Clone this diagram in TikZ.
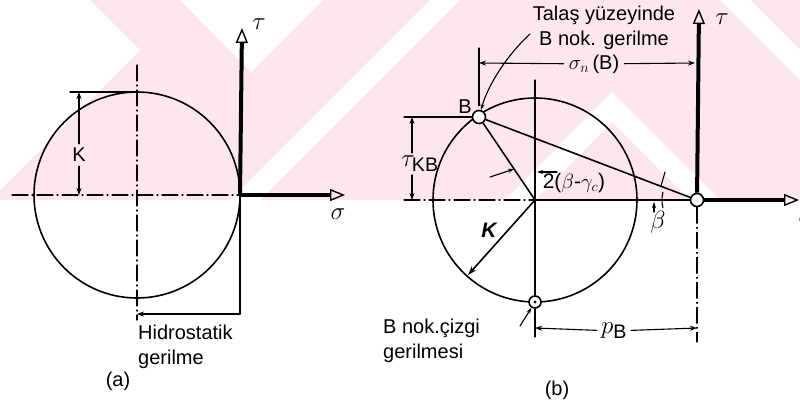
\documentclass[tikz,border=0pt]{standalone}
\usepackage{fontspec}
\setmainfont{Liberation Sans}
\usetikzlibrary{arrows.meta}
\definecolor{wmpink}{RGB}{253,231,236}

\begin{document}
\begin{tikzpicture}[
    x=1pt, y=-1pt,
    line cap=round,
    circ/.style={line width=1.6pt},
    thinline/.style={line width=1.1pt},
    centre/.style={line width=1.1pt, dash pattern=on 16pt off 4pt on 1pt off 4pt},
    axis/.style={line width=4pt, line cap=butt,
        -{Triangle[open, length=15pt, width=12pt, line width=1.4pt]}},
    dim/.style={line width=1.1pt, -{Stealth[length=7pt, width=5pt]}},
    tip/.style={line width=1.1pt, -{Stealth[length=6pt, width=4pt]}},
    pt/.style={circle, draw, line width=1.6pt, fill=white,
        minimum size=13pt, inner sep=0pt},
    lbl/.style={font=\fontsize{20}{25}\selectfont, inner sep=0pt},
    sym/.style={font=\fontsize{28}{30}\selectfont, inner sep=0pt}
]
\useasboundingbox (0,0) rectangle (800,408);

% background marks
\fill[wmpink] (0,0) rectangle (800,200);
\fill[white] (0,0) -- (90,0) -- (140,50) -- (0,190) -- cycle;
\fill[white] (180,0) -- (323,0) -- (251,72) -- cycle;
\fill[white] (430,0) -- (460,0) -- (260,200) -- (230,200) -- cycle;
\fill[white] (612,92) -- (720,200) -- (690,200) -- (612,122)
    -- (535,200) -- (505,200) -- cycle;
\fill[white] (720,0) -- (750,0) -- (800,50) -- (800,80) -- cycle;

% ---- (a) ----
\coordinate (Ca) at (137,195);
\coordinate (Oa) at (240,195);
\coordinate (La) at (12,195);
\coordinate (Ta) at (242,28);
\coordinate (Sa) at (345,195);
\coordinate (Va1) at (137,65);
\coordinate (Va2) at (137,320);
\coordinate (topa) at (137,92);
\coordinate (Ka1) at (70,92);
\coordinate (Kt) at (79,92);
\coordinate (Kb) at (79,195);
\coordinate (Ha) at (240,314);
\coordinate (Hb) at (137,314);

\draw[circ] (Ca) circle[radius=103];
\draw[centre] (La) -- (Oa);
\draw[centre] (Va1) -- (Va2);
\draw[axis] (Oa) -- (Ta);
\draw[axis] (Oa) -- (Sa);
\node[sym] (tauA) at (259,24) {$\tau$};
\node[sym] (sigA) at (338,214) {$\sigma$};

\draw[thinline] (Ka1) -- (topa);
\node[lbl] (KA) at (79,155) {K};
\draw[dim, shorten <=4pt] (KA) -- (Kt);
\draw[dim, shorten <=4pt] (KA) -- (Kb);

\draw[thinline] (Oa) -- (Ha);
\draw[dim] (Ha) -- (Hb);
\node[lbl, anchor=north west, align=left] (hyd) at (138,325) {Hidrostatik\\gerilme};
\node[lbl] (capA) at (118,381) {(a)};

% ---- (b) ----
\coordinate (Cb) at (535,200);
\coordinate (Lb) at (404,200);
\coordinate (Sb) at (799,200);
\coordinate (Tb) at (699,9);
\coordinate (Ob2) at (697,342);
\coordinate (Vb1) at (535,80);
\coordinate (Vb2) at (535,337);
\coordinate (Kx) at (404,117);
\coordinate (k1) at (412,117);
\coordinate (k2) at (412,200);
\coordinate (Bu) at (479,48);
\coordinate (s1) at (479,63);
\coordinate (s2) at (695,63);
\coordinate (tq) at (530,34);
\coordinate (Kp) at (468,275);
\coordinate (q1) at (535,328);
\coordinate (q2) at (697,328);
\coordinate (pa) at (520,326);

\draw[circ] (Cb) circle[radius=102];

\node[pt] (Ob) at (697,200) {};
\node[pt] (B) at (479,117) {};
\node[pt, minimum size=12pt] (Pb) at (535,302) {};
\fill (Pb) circle[radius=1.6];

\draw[centre] (Lb) -- (Cb);
\draw[circ] (Cb) -- (Ob);
\draw[axis] (Ob) -- (Sb);
\draw[axis] (Ob) -- (Tb);
\draw[centre] (Ob) -- (Ob2);
\draw[thinline] (Vb1) -- (Pb);
\draw[thinline] (Pb) -- (Vb2);
\node[sym] (tauB) at (722,19) {$\tau$};
\node[sym] (sigB) at (806,218) {$\sigma$};

\draw[circ] (B) -- (Cb);
\draw[circ] (B) -- (Ob);
\node[lbl] (Blbl) at (465,107) {B};

% tau_KB
\draw[thinline] (Kx) -- (B);
\node[sym] (tkb) at (420,164) {$\tau_{\mathrm{KB}}$};
\draw[dim, shorten <=3pt] (tkb.north -| k1) -- (k1);
\draw[dim, shorten <=3pt] (tkb.south -| k2) -- (k2);

% sigma_n(B)
\draw[thinline, shorten <=4pt] (B) -- (Bu);
\node[lbl, font=\fontsize{20}{22}\selectfont] (snB) at (594,64) {$\sigma_{n}$\,(B)};
\draw[dim, shorten <=5pt] (snB) -- (s1);
\draw[dim, shorten <=5pt] (snB) -- (s2);

\node[lbl, align=center, anchor=north] (tal) at (604,6) {Talaş yüzeyinde\\B nok. gerilme};
\draw[tip] (tq) .. controls (507,55) and (488,85) .. (B);

% K radius
\draw[circ, -{Stealth[length=9pt, width=6pt]}] (Cb) -- (Kp);
\node[lbl, font=\fontsize{21}{24}\selectfont\bfseries\itshape] (KB) at (489,230) {K};

% angle 2(beta-gamma_c)
\coordinate (a1) at (490,177);
\coordinate (a2) at (514,169);
\coordinate (a3) at (557,172);
\coordinate (a4) at (537,172);
\draw[tip] (a1) -- (a2);
\draw[tip] (a3) -- (a4);
\node[lbl, font=\fontsize{21}{24}\selectfont] (ang) at (574,183) {2($\beta$-$\gamma_{c}$)};

% beta
\coordinate (bt1) at (661,186);
\coordinate (bt2) at (665,172);
\coordinate (bu1) at (654,212);
\coordinate (bu2) at (654,202);
\draw[thinline] (Ob) ++(193:35) arc[start angle=193, end angle=167, radius=35];
\draw[thinline] (bt1) -- (bt2);
\draw[tip] (bu1) -- (bu2);
\node[font=\fontsize{24}{26}\selectfont, inner sep=0pt] (beta) at (658,222) {$\beta$};

% bottom point and p_B
\draw[tip] (pa) -- (Pb);
\node[sym] (pB) at (614,331) {$p_{\mathrm{B}}$};
\draw[dim, shorten <=4pt] (pB) -- (q1);
\draw[dim, shorten <=4pt] (pB) -- (q2);

\node[lbl, anchor=north west, align=left] (bcz) at (383,319) {B nok.çizgi\\gerilmesi};
\node[lbl] (capB) at (557,390) {(b)};

\end{tikzpicture}
\end{document}
